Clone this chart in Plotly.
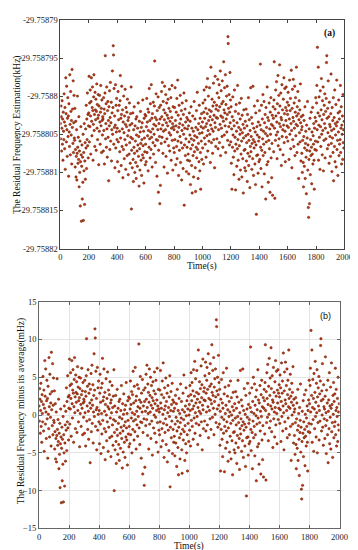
import plotly.graph_objects as go

# Residual frequency minus its average (mHz) in 100 s blocks
blocks = [
    [1.2, -0.8, 3.5, 2.1, -2.4, 0.6, 4.2, -1.5, 1.8, -3.6, 2.7, 0.2, -0.9, 5.1, 1.4, -2.1, 3.3, -4.8, 0.9, 7.2, 2.5, -1.2, 6.1, 0.4, -3.1, 1.9, 4.6, -0.5, 2.2, -5.7, 3.8, 0.1, -1.8, 7.6, 1.1, -2.9, 5.4, 2.8, -0.3, 1.6, -4.1, 8.3, 0.7, 3.1, -1.4, 6.8, -2.6, 1.3, 4.9, -0.7],
    [-1.0, 3.2, -4.5, -2.2, 1.5, -5.8, -3.1, 0.4, -6.2, -2.7, 4.8, -1.9, -4.0, -0.6, -3.5, 2.1, -7.1, -2.4, -5.2, -1.1, -9.6, -3.8, 0.8, -2.9, -11.6, -4.4, -1.6, -8.7, -3.2, -6.5, -0.2, -11.5, -2.6, -5.0, 1.2, -9.4, -3.7, -1.3, -6.1, 0.5, -2.0, 3.6, -4.7, 1.8, -0.9, 5.2, -1.7, 2.4, -3.3, 0.9],
    [2.6, 7.4, -1.2, 3.9, 0.8, 5.6, 2.2, -2.8, 4.1, 7.2, 1.5, -0.4, 3.3, 6.0, 2.9, -3.6, 1.1, 4.7, 7.6, 0.3, 2.4, -1.8, 5.3, 3.0, 1.7, 4.4, -2.3, 2.8, 6.4, 0.6, 3.7, -0.9, 1.9, 5.0, 2.3, -4.2, 3.5, 0.2, 4.9, 1.4, -1.5, 2.7, 6.2, 0.9, 3.2, -2.6, 4.3, 1.6, -0.3, 2.1],
    [1.8, -2.4, 4.6, 0.3, 3.1, -4.1, 2.5, 5.2, 10.1, -0.8, 1.2, 3.8, -1.9, 6.0, 0.5, -3.2, 2.9, 4.1, -0.6, 1.6, -6.3, 3.4, 0.9, 5.5, -2.2, 2.0, 6.6, -1.1, 1.3, 4.0, -3.7, 0.4, 2.6, 8.1, -0.2, 3.3, 11.4, 10.2, -1.5, 5.8, 0.7, 2.2, -4.6, 1.0, 6.3, -2.0, 3.6, 0.1, 4.5, -0.9],
    [0.6, -3.8, 2.9, 5.4, -1.2, 1.7, -5.1, 3.6, 0.2, -2.5, 4.2, 7.5, -0.7, 1.9, -4.3, 2.4, 6.1, -1.8, 0.5, 3.0, -5.9, 1.4, -2.2, 4.8, 0.0, -3.4, 2.2, -0.9, 5.7, 1.1, -4.8, 3.3, -1.6, 0.8, 2.7, -3.0, 4.4, -0.4, 1.6, -5.5, 2.0, 0.3, -2.8, 3.9, -1.3, 1.0, -4.0, 2.5, -0.6, 6.0],
    [-10.0, -2.3, 1.2, -4.6, -0.8, 2.6, -3.5, -6.4, 0.4, -1.9, 3.4, -2.7, -5.2, 0.9, -1.1, -3.9, 1.8, -6.0, -0.3, 2.1, -2.4, -4.4, 0.6, -1.6, 3.9, -3.1, -0.5, -7.0, 1.5, -2.1, -4.9, 0.1, 2.8, -1.4, -3.6, 0.7, -5.6, -0.9, 1.3, -2.9, 4.3, -1.7, -3.3, 0.2, -6.6, 1.9, -0.7, -2.5, 2.4, -4.2],
    [-1.5, 2.2, -3.8, 0.8, 4.5, -2.6, 1.4, -0.4, 3.1, -5.0, 0.3, 2.7, -1.9, 5.8, -0.8, 1.6, -3.3, 3.8, 0.1, -2.2, 6.3, -0.6, 1.9, -4.5, 2.5, 0.5, -1.3, 4.0, -2.8, 1.1, -0.2, 3.5, 9.4, -1.7, 2.0, -3.9, 0.9, 5.1, -0.9, 1.7, -5.7, 2.9, -1.0, 0.4, 4.7, -7.8, -2.3, 1.2, 3.3, -0.5],
    [-9.3, 1.8, -6.9, 3.6, 0.5, -1.4, 5.4, 2.1, -0.6, 6.6, 1.0, -2.7, 4.1, 0.2, 3.0, -4.5, 1.7, 6.1, -1.2, 2.6, 0.4, 5.0, -3.1, 1.3, 3.9, -0.8, 2.3, -5.3, 0.9, 4.4, 1.9, -1.7, 3.2, 0.0, 5.7, -2.4, 1.5, 2.8, -0.3, 4.6, -3.6, 0.6, 2.0, 6.2, -1.0, 1.2, -4.9, 3.4, 0.8, -2.0],
    [0.4, -2.6, 3.3, -0.9, 5.9, 1.6, -4.2, 0.9, 2.7, -1.8, 4.5, -3.4, 0.1, 6.9, -1.1, 2.3, -5.6, 0.7, 3.6, -2.3, 1.2, -0.5, 4.9, -3.9, 1.8, -1.3, 2.9, -6.2, 0.3, 3.9, -2.0, 1.0, -4.7, 2.4, -0.2, 5.2, -9.5, -1.6, 0.6, 3.1, -3.0, 1.4, -0.8, 4.2, -5.1, 2.0, -1.9, 0.5, -3.6, 1.7],
    [-2.8, 0.9, -5.4, -1.2, 2.6, -3.7, -0.3, 1.5, -6.8, -2.1, 3.4, -0.8, -4.3, 0.6, -7.9, -1.6, 2.2, -3.0, 0.2, -5.8, -1.0, 4.1, -2.5, -0.4, 1.8, -4.6, -7.7, 0.7, -1.9, 2.9, -3.3, -0.6, 5.3, -2.2, 0.4, -6.0, -1.4, 1.2, -3.8, 3.6, -0.1, -5.0, 1.9, -2.6, -7.4, 0.8, -1.1, 2.5, -3.5, 0.0],
    [1.4, -2.0, 3.9, 0.6, -4.1, 2.7, 5.6, -0.7, 1.9, 4.3, -1.5, 0.8, 3.2, -3.2, 6.0, 1.2, -0.4, 2.5, 7.1, -2.4, 0.3, 4.8, 1.6, -1.1, 3.0, 5.9, -0.2, 2.1, -3.9, 1.0, 8.6, 2.8, -1.3, 0.5, 4.4, 1.7, -2.7, 3.5, 0.2, 6.5, -0.9, 2.3, 4.0, -4.6, 1.3, 7.4, 0.7, -1.8, 3.1, 2.0],
    [3.6, -0.8, 5.2, 1.9, 7.0, -2.1, 2.9, 0.4, 4.6, 6.3, -1.3, 3.4, 1.1, 8.1, -3.0, 2.2, 5.5, 0.6, 3.8, -0.5, 6.8, 2.0, -1.9, 4.1, 1.5, 9.3, 3.0, -0.3, 5.9, 2.6, 0.9, 7.6, -2.6, 3.7, 1.8, 4.8, 0.1, 6.1, 2.4, -1.0, 12.6, 11.7, 3.2, 0.8, 5.0, -1.6, 2.7, 7.9, 1.3, 4.3],
    [-1.2, 3.4, -4.0, 0.5, -7.4, 2.1, -1.9, 4.7, -0.3, -3.2, 1.6, -5.5, 0.9, 5.6, -2.4, -0.6, 2.8, -7.5, -1.5, 3.7, 0.2, -4.4, 1.3, -2.1, 6.2, -0.9, -3.6, 2.5, 0.7, -6.1, -1.7, 3.9, -0.2, 1.8, -4.9, 0.4, -2.8, 4.5, -1.1, -5.8, 2.3, 0.0, -3.4, 1.1, -7.9, -0.7, 3.0, -2.3, 0.6, -4.6],
    [-2.2, 1.5, -5.0, -0.4, 3.1, -3.7, -1.3, 0.9, -6.4, 2.4, -2.7, -0.2, 4.6, -4.3, -1.0, 1.7, -3.1, -7.2, 0.3, -1.8, 5.9, -2.5, -0.5, 2.0, -4.8, -1.4, 1.2, -3.4, 6.1, -0.9, -5.6, 0.6, -2.0, 3.5, -1.2, -4.1, 0.1, -6.8, 2.6, -1.6, -10.7, -3.0, 0.8, -0.3, 4.2, -2.9, -5.3, 1.4, -1.1, -3.8],
    [-0.6, 2.9, -3.5, 1.0, 9.0, -1.9, -4.7, 0.4, 3.6, -2.3, -7.1, 1.8, -0.8, 5.0, -3.0, 0.2, -1.5, 4.1, -5.4, 1.3, -2.6, 2.4, -0.1, -8.7, 3.3, -1.2, 0.7, -4.2, 6.0, -0.4, 2.0, -3.8, -6.5, 1.6, -1.0, 3.9, -2.1, 0.5, -7.8, 2.7, -0.2, 4.6, -3.3, 1.1, -5.9, -1.4, 2.3, -8.2, 0.9, 3.4],
    [1.9, -2.5, 4.3, 9.3, 0.6, -8.6, 3.1, -1.0, 5.6, 2.2, -0.3, 6.7, 1.4, -3.4, 3.8, 0.1, 7.5, -1.7, 2.6, 4.9, -0.8, 1.2, 8.9, 3.5, -2.2, 0.8, 5.2, 2.0, -4.3, 1.7, 6.3, -0.5, 3.0, 0.4, -2.9, 4.4, 1.0, 7.2, -1.3, 2.5, 5.8, 0.2, -3.8, 3.3, 1.6, 6.0, -0.6, 2.9, 0.9, 4.0],
    [2.4, -1.1, 5.3, 0.7, 3.6, -3.5, 1.8, 6.9, -0.2, 2.9, 4.5, -2.1, 1.2, 8.2, 0.3, -4.6, 3.2, 5.7, -0.9, 2.0, 7.0, 1.5, -1.8, 3.9, 0.6, 6.1, -3.0, 2.7, 4.6, -0.4, 1.1, 8.6, 2.2, -2.6, 3.4, 0.9, 5.4, -1.5, 2.5, -6.0, 1.7, 4.2, 0.0, 3.0, -1.2, 6.4, 1.3, -3.7, 2.1, 0.4],
    [-2.7, 0.8, -5.2, -1.0, 2.3, -3.9, -7.1, -0.5, 1.6, -4.4, -2.0, 3.4, -6.0, -1.4, 0.2, -3.2, -8.0, 1.0, -2.3, -0.7, 4.1, -4.9, -1.6, -9.8, -11.1, -3.5, 0.5, -9.3, -2.4, 1.9, -5.5, -0.9, -3.0, 2.7, -1.9, -6.7, 0.1, -2.8, 3.3, -4.1, -0.4, -1.5, 1.2, -3.6, -7.4, 0.6, -2.2, 2.0, -1.1, 4.6],
    [1.5, -2.3, 3.9, 6.2, 0.4, 11.2, -1.2, 2.6, 8.6, -3.6, 1.0, 4.7, -0.6, 2.2, -4.8, 5.5, 0.8, -1.8, 3.0, 7.1, -0.2, 1.7, -2.9, 4.2, 0.3, 6.0, -5.0, 2.4, -1.0, 3.6, 1.2, 5.1, -3.3, 0.6, 2.8, -0.8, 4.5, 9.2, 10.1, 1.9, -2.1, 3.2, 0.0, 6.8, -1.6, 2.1, -4.0, 4.0, 1.1, -0.5],
    [0.8, -3.1, 2.5, 7.7, -1.4, 0.3, -5.1, 3.3, -0.7, 1.6, -2.6, 4.6, -6.3, 0.5, 2.0, -1.8, 5.6, -3.8, 1.2, -0.3, 3.7, -4.5, 0.9, 6.9, -2.2, 1.4, -1.0, -5.6, 2.6, 0.1, 4.3, -3.0, 1.8, -1.5, 2.8, -0.9, 6.2, -2.6, 0.6, 3.4, -4.1, 1.0, -0.2, 2.2, -3.5, 5.0, -1.3, 0.4, -2.0, 1.5],
]
block_starts = [0, 100, 200, 300, 400, 500, 600, 700, 800, 900,
                1000, 1100, 1200, 1300, 1400, 1500, 1600, 1700, 1800, 1900]
block_len_s = 100

# average residual frequency estimate (kHz)
avg_khz = -29.7588048

top_yticks = [-29.75879, -29.758795, -29.7588, -29.758805, -29.75881, -29.758815, -29.75882]
top_yticklabels = ["-29.75879", "-29.758795", "-29.7588", "-29.758805", "-29.75881", "-29.758815", "-29.75882"]
bot_yticks = [-15, -10, -5, 0, 5, 10, 15]
xticks = [0, 200, 400, 600, 800, 1000, 1200, 1400, 1600, 1800, 2000]

times, dev_mhz = [], []
for start, blk in zip(block_starts, blocks):
    n = len(blk)
    for i, v in enumerate(blk):
        times.append(start + i * block_len_s / n)
        dev_mhz.append(v)
est_khz = [avg_khz + v * 1e-6 for v in dev_mhz]

FONT = "Liberation Serif"
marker = dict(size=2.4, color="#c8321c", line=dict(color="#5a2600", width=0.5))

fig = go.Figure()
fig.add_trace(go.Scatter(x=times, y=est_khz, mode="markers", marker=marker,
                         xaxis="x", yaxis="y", showlegend=False))
fig.add_trace(go.Scatter(x=times, y=dev_mhz, mode="markers", marker=marker,
                         xaxis="x2", yaxis="y2", showlegend=False))

W, H = 358, 550
def px(a, b):
    return [a / W, b / W]
def py(top, bottom):
    return [1 - bottom / H, 1 - top / H]
def ax(x):
    return x / W
def ay(y):
    return 1 - y / H

tickfont = dict(family=FONT, size=8.5, color="#222")
fig.update_layout(
    width=W, height=H,
    margin=dict(l=0, r=0, t=0, b=0),
    paper_bgcolor="white", plot_bgcolor="white",
    font=dict(family=FONT, color="#111"),
    xaxis=dict(domain=px(52, 345), range=[0, 2000], tickvals=xticks,
               ticks="inside", ticklen=3, tickcolor="#444", mirror="ticks",
               showline=True, linecolor="#444", linewidth=1, showgrid=False,
               zeroline=False, tickfont=tickfont, anchor="y", ticklabelstandoff=0),
    yaxis=dict(domain=py(7, 240), range=[-29.75882, -29.75879], tickvals=top_yticks,
               ticktext=top_yticklabels, ticks="inside", ticklen=3, tickcolor="#444",
               mirror="ticks", showline=True, linecolor="#444", linewidth=1,
               showgrid=False, zeroline=False, tickfont=tickfont, anchor="x"),
    xaxis2=dict(domain=px(30, 340), range=[0, 2000], tickvals=xticks,
                ticks="inside", ticklen=3, tickcolor="#666", mirror="ticks",
                showline=True, linecolor="#666", linewidth=1, showgrid=True,
                gridcolor="#e4e4e4", gridwidth=0.8, zeroline=False, tickfont=tickfont,
                anchor="y2", ticklabelstandoff=0),
    yaxis2=dict(domain=py(294, 525), range=[-15, 15], tickvals=bot_yticks,
                ticks="inside", ticklen=3, tickcolor="#666", mirror="ticks",
                showline=True, linecolor="#666", linewidth=1, showgrid=True,
                gridcolor="#e4e4e4", gridwidth=0.8, zeroline=False, tickfont=tickfont,
                anchor="x2"),
    annotations=[
        dict(text="The Residual Frequency Estimation(kHz)", xref="paper", yref="paper",
             x=ax(7), y=ay(123.5), textangle=-90, showarrow=False,
             font=dict(family=FONT, size=9.5, color="#111"), xanchor="center", yanchor="middle"),
        dict(text="The Residual Frequency minus its average(mHz)", xref="paper", yref="paper",
             x=ax(12), y=ay(405), textangle=-90, showarrow=False,
             font=dict(family=FONT, size=9.5, color="#111"), xanchor="center", yanchor="middle"),
        dict(text="Time(s)", xref="paper", yref="paper", x=ax(198.5), y=ay(258),
             showarrow=False, font=dict(family=FONT, size=9.5, color="#111"),
             xanchor="center", yanchor="middle"),
        dict(text="Time(s)", xref="paper", yref="paper", x=ax(185), y=ay(543),
             showarrow=False, font=dict(family=FONT, size=9.5, color="#111"),
             xanchor="center", yanchor="middle"),
        dict(text="<b>(a)</b>", xref="paper", yref="paper", x=ax(330), y=ay(21),
             showarrow=False, font=dict(family=FONT, size=9.5, color="#111"),
             xanchor="center", yanchor="middle"),
        dict(text="(b)", xref="paper", yref="paper", x=ax(325), y=ay(309),
             showarrow=False, font=dict(family="Liberation Sans", size=9, color="#111"),
             xanchor="center", yanchor="middle"),
    ],
)

fig.write_html("out.html")
